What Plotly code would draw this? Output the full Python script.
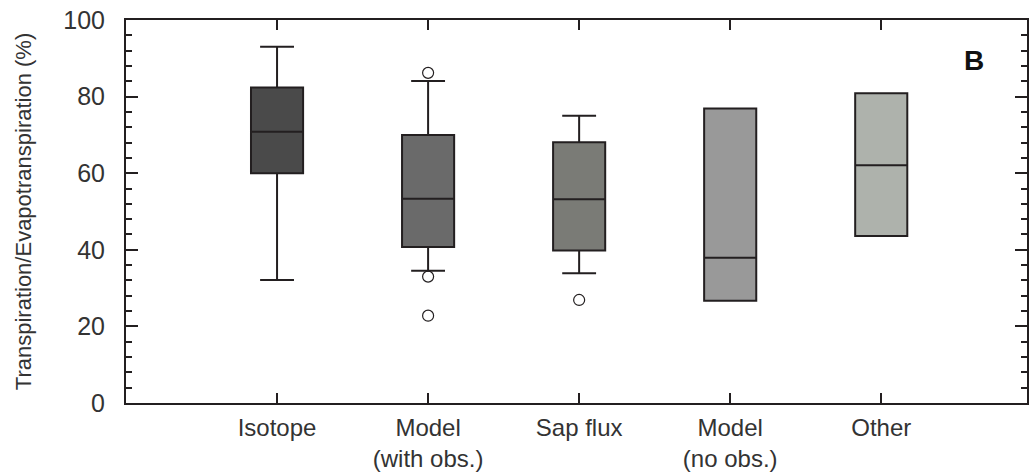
import plotly.graph_objects as go

categories = ["Isotope", "Model<br>(with obs.)", "Sap flux", "Model<br>(no obs.)", "Other"]
q1_vals = [60.0, 40.7, 39.8, 26.7, 43.6]
median_vals = [70.8, 53.3, 53.2, 37.9, 62.1]
q3_vals = [82.4, 70.0, 68.1, 76.9, 80.9]
lower_whisker = [32.1, 34.5, 33.9, 26.7, 43.6]
upper_whisker = [93.0, 84.1, 75.0, 76.9, 80.9]
fill_colors = ["#4a4a4a", "#6a6a6a", "#7a7b76", "#999999", "#aeb2ac"]

outlier_cats = ["Model<br>(with obs.)", "Model<br>(with obs.)", "Model<br>(with obs.)", "Sap flux"]
outlier_vals = [86.2, 33.0, 22.8, 26.9]

LINE = "#231f20"
fig = go.Figure()
for i, cat in enumerate(categories):
    fig.add_trace(go.Box(
        x=[cat], q1=[q1_vals[i]], median=[median_vals[i]], q3=[q3_vals[i]],
        lowerfence=[lower_whisker[i]], upperfence=[upper_whisker[i]],
        fillcolor=fill_colors[i], line=dict(color=LINE, width=2),
        width=0.345, whiskerwidth=0.65, showlegend=False, boxpoints=False,
    ))

fig.add_trace(go.Scatter(
    x=outlier_cats, y=outlier_vals, mode="markers",
    marker=dict(symbol="circle-open", size=11, color=LINE, line=dict(width=1.2, color=LINE)),
    showlegend=False,
))

fig.add_annotation(text="<b>B</b>", x=0.955, y=0.94, xref="paper", yref="paper",
                   showarrow=False, font=dict(family="Liberation Sans, Arial", size=28, color="#111111"))

fig.update_layout(
    width=1029, height=473,
    margin=dict(l=126, r=0, t=20, b=70),
    plot_bgcolor="white", paper_bgcolor="white",
    font=dict(family="Liberation Sans, Arial", color="#333333"),
)
fig.update_xaxes(
    type="category", categoryorder="array", categoryarray=categories,
    range=[-1, 4.965],
    showline=True, linecolor=LINE, linewidth=2, mirror="ticks",
    ticks="inside", ticklen=10, tickwidth=2, tickcolor=LINE,
    tickfont=dict(size=24, color="#333333"), ticklabelstandoff=2,
    showgrid=False, zeroline=False,
)
fig.update_yaxes(
    range=[0, 100], tickvals=[0, 20, 40, 60, 80, 100],
    showline=True, linecolor=LINE, linewidth=2, mirror="ticks",
    ticks="inside", ticklen=12, tickwidth=2, tickcolor=LINE,
    minor=dict(dtick=4, ticks="inside", ticklen=6, tickwidth=1.5, tickcolor=LINE),
    tickfont=dict(size=25, color="#333333"), ticklabelstandoff=14,
    title=dict(text="Transpiration/Evapotranspiration (%)", font=dict(size=22, color="#333333"), standoff=26),
    showgrid=False, zeroline=False,
)

fig.write_html("out.html")
